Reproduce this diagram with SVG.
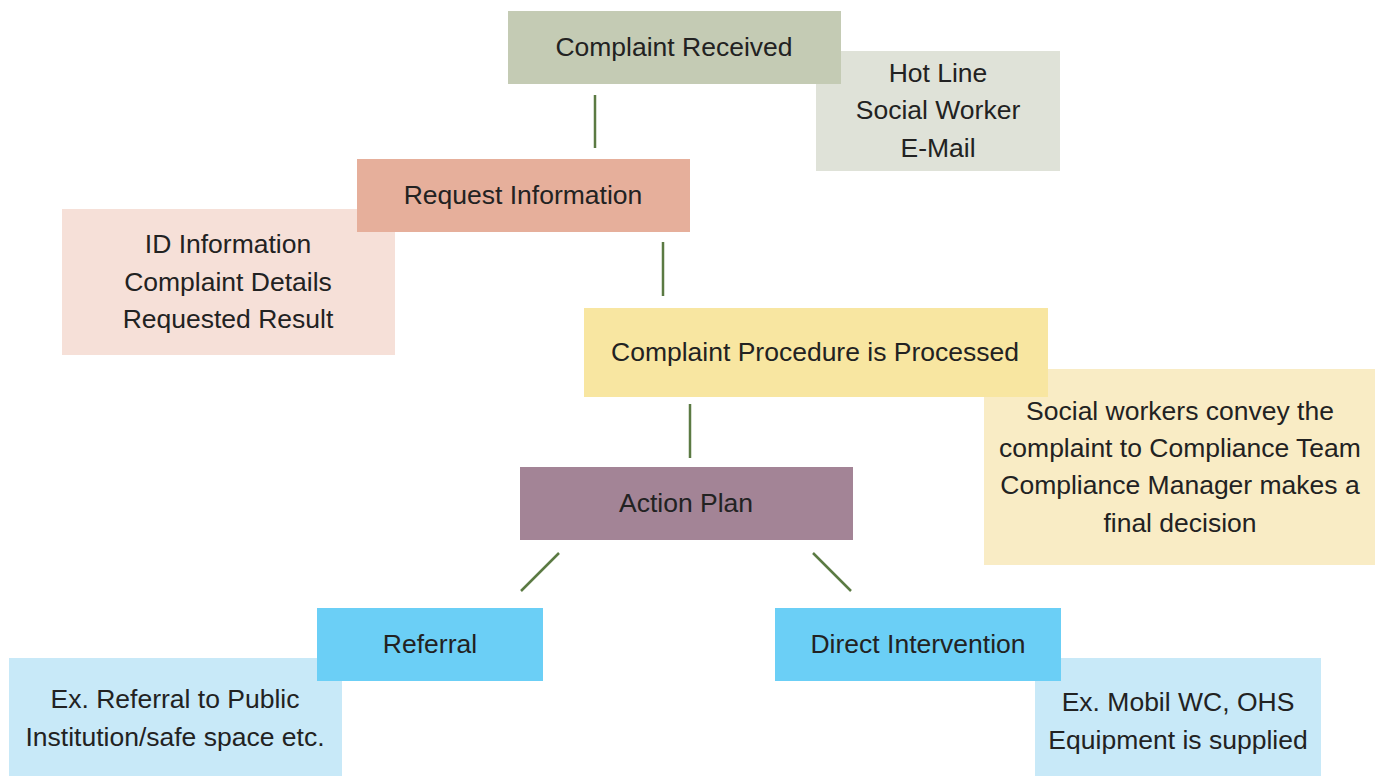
<svg xmlns="http://www.w3.org/2000/svg" width="1381" height="776" viewBox="0 0 1381 776">
<style>
text{font-family:"Liberation Sans",Arial,sans-serif;font-size:26.5px;fill:#222;text-anchor:middle;dominant-baseline:central}
.c{stroke:#5b7a43;stroke-width:2.5;fill:none}
</style>
<rect width="1381" height="776" fill="#fff"/>
<g id="connectors">
<line class="c" x1="595" y1="95" x2="595" y2="148"/>
<line class="c" x1="663" y1="242" x2="663" y2="296"/>
<line class="c" x1="690" y1="404" x2="690" y2="458"/>
<line class="c" x1="559" y1="553" x2="521" y2="591"/>
<line class="c" x1="813" y1="553" x2="851" y2="591"/>
</g>
<g id="hotline-note">
<rect x="816" y="51" width="244" height="120" fill="#dfe2d8"/>
<text x="938" y="73">Hot Line</text>
<text x="938" y="110">Social Worker</text>
<text x="938" y="148">E-Mail</text>
</g>
<g id="id-note">
<rect x="62" y="209" width="333" height="146" fill="#f6e0d8"/>
<text x="228" y="244">ID Information</text>
<text x="228" y="282">Complaint Details</text>
<text x="228" y="319">Requested Result</text>
</g>
<g id="social-note">
<rect x="984" y="369" width="391" height="196" fill="#f9ecc5"/>
<text x="1180" y="411">Social workers convey the</text>
<text x="1180" y="448">complaint to Compliance Team</text>
<text x="1180" y="485">Compliance Manager makes a</text>
<text x="1180" y="523">final decision</text>
</g>
<g id="referral-note">
<rect x="9" y="658" width="333" height="118" fill="#c8e9f8"/>
<text x="175" y="699">Ex. Referral to Public</text>
<text x="175" y="737">Institution/safe space etc.</text>
</g>
<g id="direct-note">
<rect x="1035" y="658" width="286" height="118" fill="#c8e9f8"/>
<text x="1178" y="702">Ex. Mobil WC, OHS</text>
<text x="1178" y="740">Equipment is supplied</text>
</g>
<g id="complaint-received">
<rect x="508" y="11" width="333" height="73" fill="#c4cbb4"/>
<text x="674" y="47">Complaint Received</text>
</g>
<g id="request-information">
<rect x="357" y="159" width="333" height="73" fill="#e6af9b"/>
<text x="523" y="195">Request Information</text>
</g>
<g id="complaint-procedure">
<rect x="584" y="308" width="464" height="89" fill="#f8e6a1"/>
<text x="815" y="352">Complaint Procedure is Processed</text>
</g>
<g id="action-plan">
<rect x="520" y="467" width="333" height="73" fill="#a38496"/>
<text x="686" y="503">Action Plan</text>
</g>
<g id="referral">
<rect x="317" y="608" width="226" height="73" fill="#6bcff6"/>
<text x="430" y="644">Referral</text>
</g>
<g id="direct-intervention">
<rect x="775" y="608" width="286" height="73" fill="#6bcff6"/>
<text x="918" y="644">Direct Intervention</text>
</g>
</svg>
